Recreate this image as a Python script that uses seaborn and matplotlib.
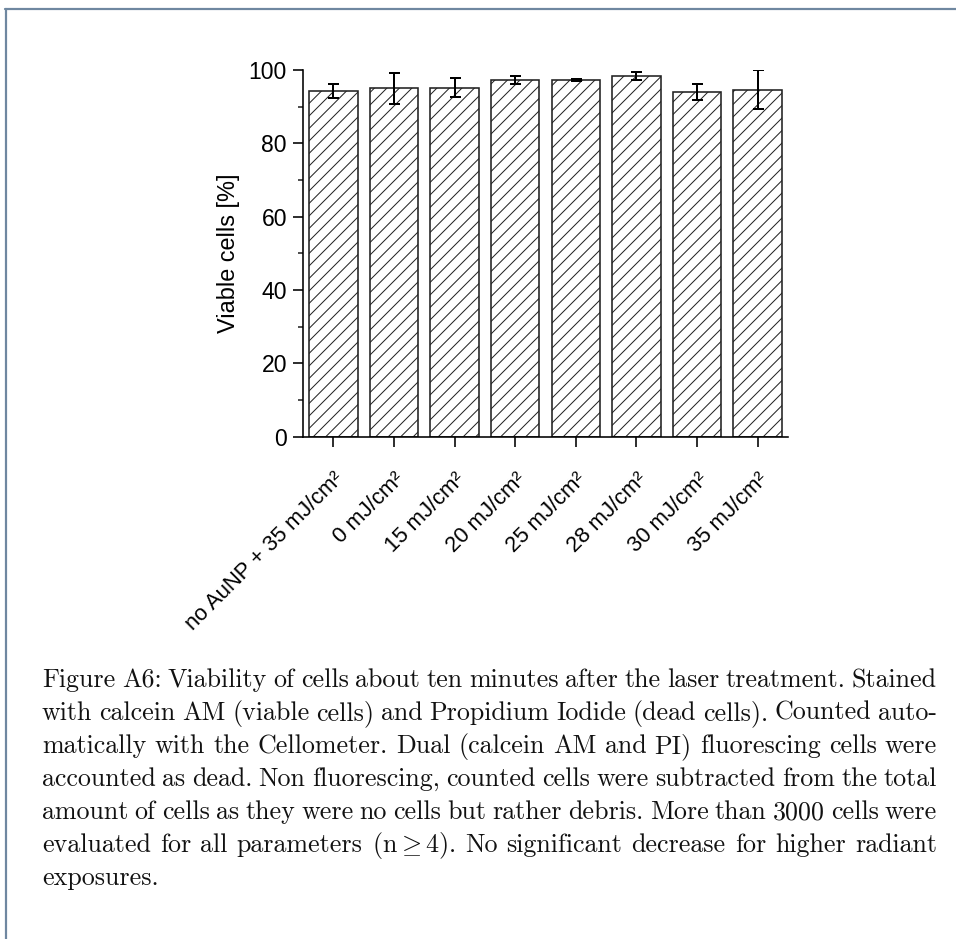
import numpy as np
import pandas as pd
import matplotlib
matplotlib.use("Agg")
import matplotlib.pyplot as plt
import seaborn as sns
from matplotlib.lines import Line2D

# ---------------- data ----------------
conditions = ["no AuNP + 35 mJ/cm²", "0 mJ/cm²", "15 mJ/cm²", "20 mJ/cm²",
              "25 mJ/cm²", "28 mJ/cm²", "30 mJ/cm²", "35 mJ/cm²"]
viable = [94.3, 95.0, 95.2, 97.3, 97.3, 98.3, 94.1, 94.6]
viable_sd = [1.9, 4.2, 2.6, 1.0, 0.3, 1.1, 2.2, 5.3]
y_ticks = [0, 20, 40, 60, 80, 100]
y_minor = [10, 30, 50, 70, 90]

caption_lines = [
    "Figure A6: Viability of cells about ten minutes after the laser treatment. Stained",
    "with calcein AM (viable cells) and Propidium Iodide (dead cells). Counted auto-",
    "matically with the Cellometer. Dual (calcein AM and PI) fluorescing cells were",
    "accounted as dead. Non fluorescing, counted cells were subtracted from the total",
    "amount of cells as they were no cells but rather debris. More than 3000 cells were",
    r"evaluated for all parameters (n$\geq$4). No significant decrease for higher radiant",
    "exposures.",
]

# ---------------- setup ----------------
W, H, DPI = 956, 939, 75
def pt(px):
    return px * 72.0 / DPI

sns.set_style("ticks")
plt.rcParams["font.family"] = ["Liberation Sans", "DejaVu Sans"]
plt.rcParams["mathtext.fontset"] = "cm"
plt.rcParams["hatch.linewidth"] = pt(1.0)

fig = plt.figure(figsize=(W / DPI, H / DPI), dpi=DPI)
fig.patch.set_facecolor("white")

ax_l, ax_r, ax_t, ax_b = 303, 788, 70, 436.5
ax = fig.add_axes([ax_l / W, 1 - ax_b / H, (ax_r - ax_l) / W, (ax_b - ax_t) / H])

df = pd.DataFrame({"condition": conditions, "viable": viable, "sd": viable_sd})
sns.barplot(data=df, x="condition", y="viable", color="white", edgecolor="#222222",
            linewidth=pt(1.6), hatch="//", width=0.8, errorbar=None, ax=ax,
            saturation=1)
for p in ax.patches:
    p.set_facecolor("white")

centers = [p.get_x() + p.get_width() / 2 for p in ax.patches]
ax.errorbar(centers, df["viable"], yerr=df["sd"], fmt="none", ecolor="black",
            elinewidth=pt(2.0), capsize=pt(5.5), capthick=pt(2.0), zorder=5)

ax.set_xlim(-0.5, 7.5)
ax.set_ylim(0, 100)
ax.set_yticks(y_ticks)
ax.set_yticks(y_minor, minor=True)
ax.set_facecolor("white")
for s in ["top", "right"]:
    ax.spines[s].set_visible(False)
for s in ["left", "bottom"]:
    ax.spines[s].set_linewidth(pt(1.6))
    ax.spines[s].set_color("black")

ax.tick_params(axis="y", which="major", length=pt(10), width=pt(1.6),
               labelsize=pt(23), pad=pt(6), direction="out", colors="black")
ax.tick_params(axis="y", which="minor", length=pt(5), width=pt(1.6), direction="out")
ax.tick_params(axis="x", which="major", length=pt(10), width=pt(1.6),
               labelsize=pt(22), pad=pt(22), direction="out", colors="black")
plt.setp(ax.get_xticklabels(), rotation=45, ha="right", rotation_mode="anchor")

ax.set_xlabel("")
ax.set_ylabel("Viable cells [%]", fontsize=pt(23.5), color="black")
ax.yaxis.set_label_coords((240 - ax_l) / (ax_r - ax_l), 0.5)

# ---------------- frame lines ----------------
frame_col = "#6f87a0"
fig.add_artist(Line2D([5 / W, 1.0], [1 - 9 / H, 1 - 9 / H], transform=fig.transFigure,
                      color=frame_col, lw=pt(2.2)))
fig.add_artist(Line2D([5.5 / W, 5.5 / W], [1 - 9 / H, 0.0], transform=fig.transFigure,
                      color=frame_col, lw=pt(2.2)))

# ---------------- caption (justified) ----------------
renderer = fig.canvas.get_renderer()
cap_px = 26
L, R = 42, 937
base0, step = 687, 33
for i, line in enumerate(caption_lines):
    words = line.split(" ")
    y = 1 - (base0 + i * step) / H
    texts = [fig.text(0, y, w, fontsize=pt(cap_px), family="cmr10", va="baseline",
                      ha="left", color="#111111") for w in words]
    widths = [t.get_window_extent(renderer).width for t in texts]
    if i < len(caption_lines) - 1 and len(words) > 1:
        gap = (R - L - sum(widths)) / (len(words) - 1)
    else:
        gap = cap_px * 0.33
    x = L
    for t, w in zip(texts, widths):
        t.set_x(x / W)
        x += w + gap

fig.savefig("out.png", dpi=DPI, facecolor="white")
